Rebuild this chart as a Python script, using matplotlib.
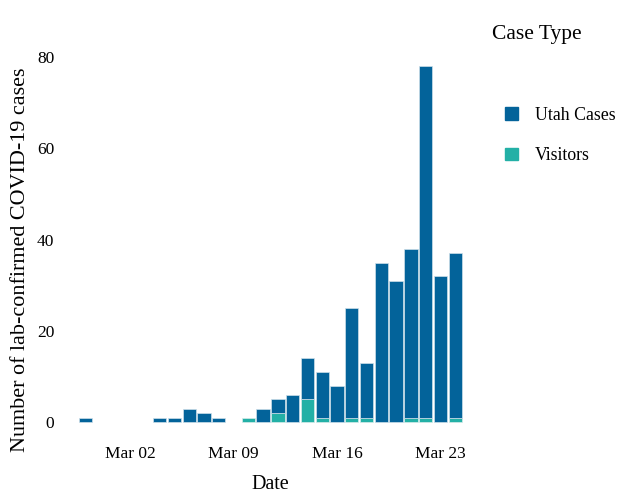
import datetime as dt
import matplotlib
matplotlib.use("Agg")
import matplotlib.pyplot as plt
import matplotlib.dates as mdates
from matplotlib.patches import Patch

plt.rcParams['font.family'] = ['Liberation Serif', 'DejaVu Serif']

# daily counts, Feb 28 .. Mar 24 2020
start = dt.datetime(2020, 2, 28)
days = [start + dt.timedelta(days=i) for i in range(26)]
visitors = [0, 0, 0, 0, 0, 0, 0, 0, 0, 0, 0, 1, 0, 2, 0, 5, 1, 0, 1, 1, 0, 0, 1, 1, 0, 1]
utah = [1, 0, 0, 0, 0, 1, 1, 3, 2, 1, 0, 0, 3, 3, 6, 9, 10, 8, 24, 12, 35, 31, 37, 77, 32, 36]
tick_days = [dt.datetime(2020, 3, 2), dt.datetime(2020, 3, 9), dt.datetime(2020, 3, 16), dt.datetime(2020, 3, 23)]

blue = '#03639a'
teal = '#23b0a6'

fig = plt.figure(figsize=(6.21, 4.93), dpi=100)
ax = fig.add_axes([0.0966, 0.1075, 0.678, 0.794])

# no outline on empty bars
ax.bar(days, visitors, width=0.9, color=teal, edgecolor='#d8ecea',
       linewidth=[0.5 if v else 0 for v in visitors])
ax.bar(days, utah, bottom=visitors, width=0.9, color=blue, edgecolor='#cfe0ea',
       linewidth=[0.5 if v else 0 for v in utah])

ax.set_xlim(start - dt.timedelta(hours=42), days[-1] + dt.timedelta(hours=42))
ax.set_ylim(-3.9, 81.9)
ax.set_yticks([0, 20, 40, 60, 80])
ax.set_xticks(tick_days)
ax.xaxis.set_major_formatter(mdates.DateFormatter('%b %d'))
ax.tick_params(length=0, labelsize=12.5, pad=4)
for s in ax.spines.values():
    s.set_visible(False)

ax.set_xlabel('Date', fontsize=14.5, labelpad=10)
ax.set_ylabel('Number of lab-confirmed COVID-19 cases', fontsize=15.9)
ax.yaxis.set_label_coords(-0.072, 0.46)

fig.text(492 / 621, 1 - 34 / 493, 'Case Type', fontsize=15.5, va='center', ha='left')
handles = [Patch(color=blue, label='Utah Cases'), Patch(color=teal, label='Visitors')]
fig.legend(handles=handles, loc='upper left', bbox_to_anchor=(505 / 621, 1 - 107 / 493),
           frameon=False, fontsize=12.8, handlelength=0.72, handleheight=0.72,
           handletextpad=0.95, labelspacing=1.3, borderpad=0, borderaxespad=0)

fig.savefig('out.png', dpi=100)
